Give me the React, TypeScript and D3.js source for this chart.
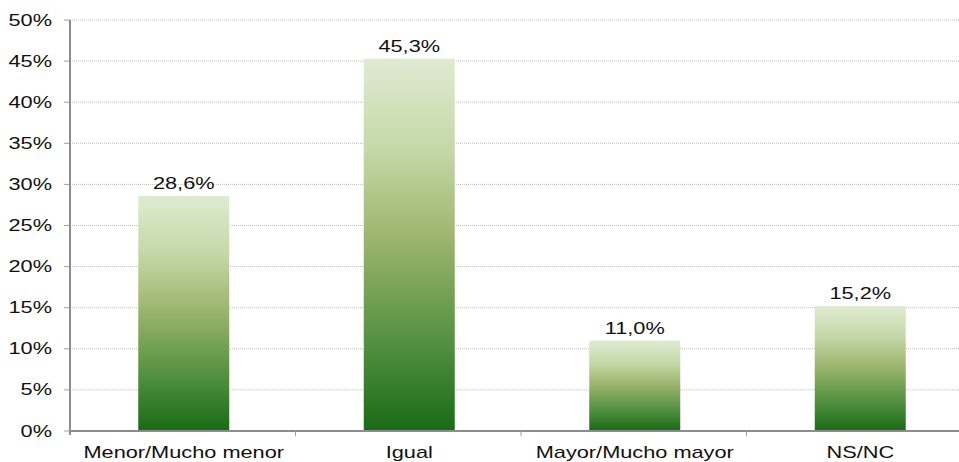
import * as d3 from 'd3'
import { useEffect, useRef } from 'react'

const categories = ['Menor/Mucho menor', 'Igual', 'Mayor/Mucho mayor', 'NS/NC']
const values = [28.6, 45.3, 11.0, 15.2]
const yTicks = [0, 5, 10, 15, 20, 25, 30, 35, 40, 45, 50]

export default function App() {
    const svgRef = useRef<SVGSVGElement>(null)

    useEffect(() => {
        makeChart()
    }, [])

    function makeChart() {
        const width = 959
        const height = 462
        const left = 70
        const top = 20
        const bottom = 431
        const font = 'Liberation Sans, Arial, sans-serif'
        const sx = 1.36 // the original text is stretched wide

        const svg = d3.select(svgRef.current).attr('width', width).attr('height', height)
        svg.selectAll('*').remove()

        const defs = svg.append('defs')
        const grad = defs.append('linearGradient')
            .attr('id', 'barGrad').attr('x1', 0).attr('y1', 0).attr('x2', 0).attr('y2', 1)
        grad.append('stop').attr('offset', '0%').attr('stop-color', '#e0ebd2')
        grad.append('stop').attr('offset', '25%').attr('stop-color', '#c3d8a6')
        grad.append('stop').attr('offset', '48%').attr('stop-color', '#9db66f')
        grad.append('stop').attr('offset', '78%').attr('stop-color', '#4e8e3c')
        grad.append('stop').attr('offset', '100%').attr('stop-color', '#196a16')

        const xScale = d3.scaleBand().domain(categories).range([left, left + 4 * 225.5]).padding(0)
        const yScale = d3.scaleLinear().domain([0, 50]).range([bottom, top])

        // gridlines
        svg.append('g').selectAll('line')
            .data(yTicks.filter(t => t > 0))
            .enter()
            .append('line')
            .attr('x1', left).attr('x2', width)
            .attr('y1', d => yScale(d)).attr('y2', d => yScale(d))
            .attr('stroke', '#bdbdbd').attr('stroke-width', 1).attr('stroke-dasharray', '1,1')

        // y tick marks + labels
        const yg = svg.append('g')
        yg.selectAll('line')
            .data(yTicks)
            .enter()
            .append('line')
            .attr('x1', left - 6).attr('x2', left)
            .attr('y1', d => yScale(d)).attr('y2', d => yScale(d))
            .attr('stroke', '#a0a0a0').attr('stroke-width', 1)
        yg.selectAll('text')
            .data(yTicks)
            .enter()
            .append('text')
            .attr('transform', d => `translate(52,${yScale(d) + 5.5}) scale(${sx},1)`)
            .attr('text-anchor', 'end')
            .attr('font-family', font).attr('font-size', 16)
            .attr('fill', '#111')
            .text(d => `${d}%`)

        // bars
        const barW = 91
        svg.append('g').selectAll('rect')
            .data(values)
            .enter()
            .append('rect')
            .attr('x', (_, i) => xScale(categories[i])! + xScale.bandwidth() / 2 - barW / 2 + 1)
            .attr('y', d => yScale(d))
            .attr('width', barW)
            .attr('height', d => bottom - yScale(d))
            .attr('fill', 'url(#barGrad)')

        // value labels
        svg.append('g').selectAll('text')
            .data(values)
            .enter()
            .append('text')
            .attr('transform', (d, i) => `translate(${xScale(categories[i])! + xScale.bandwidth() / 2 + 1},${yScale(d) - 7}) scale(${sx},1)`)
            .attr('text-anchor', 'middle')
            .attr('font-family', font).attr('font-size', 16)
            .attr('fill', '#111')
            .text(d => `${d.toFixed(1).replace('.', ',')}%`)

        // axes lines
        svg.append('line')
            .attr('x1', left).attr('x2', left).attr('y1', top).attr('y2', bottom + 4)
            .attr('stroke', '#8c8c8c').attr('stroke-width', 2)
        svg.append('line')
            .attr('x1', left).attr('x2', width).attr('y1', bottom).attr('y2', bottom)
            .attr('stroke', '#8c8c8c').attr('stroke-width', 2)

        // x ticks at band boundaries
        svg.append('g').selectAll('line')
            .data(categories.slice(1))
            .enter()
            .append('line')
            .attr('x1', d => xScale(d)!).attr('x2', d => xScale(d)!)
            .attr('y1', bottom).attr('y2', bottom + 5)
            .attr('stroke', '#a0a0a0').attr('stroke-width', 1)

        // x labels
        svg.append('g').selectAll('text')
            .data(categories)
            .enter()
            .append('text')
            .attr('transform', d => `translate(${xScale(d)! + xScale.bandwidth() / 2 + 1},458) scale(${sx},1)`)
            .attr('text-anchor', 'middle')
            .attr('font-family', font).attr('font-size', 16)
            .attr('fill', '#111')
            .text(d => d)
    }

    return (
        <svg ref={svgRef} style={{ position: 'absolute', left: 0, top: 0 }}></svg>
    )
}
